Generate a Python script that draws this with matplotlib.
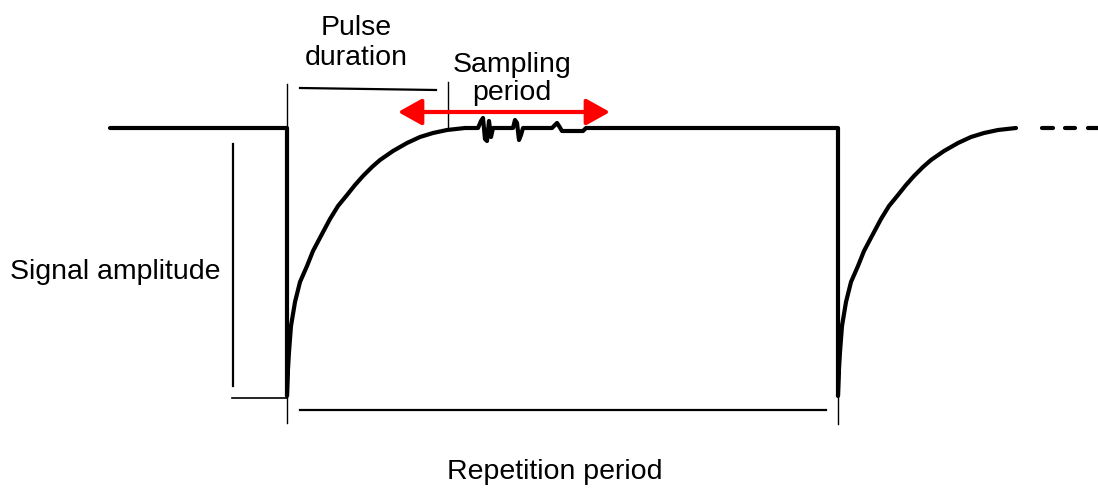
import matplotlib.pyplot as plt

plt.rcParams['font.family'] = ['Liberation Sans', 'DejaVu Sans']

# recovery curve after each pulse: offset from pulse start (px), level (px, down is +)
rec_dx = [0, 1, 2, 4, 8, 13, 20, 26, 35, 43, 51, 60, 68, 76, 85, 93,
          106, 120, 133, 146, 160, 178]
rec_y = [397, 370, 353, 327, 303, 283, 267, 252, 235, 220, 207, 196, 186, 177, 168, 161,
         152, 144, 138, 134, 131, 129]
pulse_x = [287, 838]
top = 129
start_x = 110

# little glitches on the plateau (sampling noise)
noise_x = [478, 481, 483, 485, 487, 489, 491, 493, 513, 515, 517, 519, 521, 523,
           552, 555, 557, 559, 562, 583, 586]
noise_y = [129, 122, 119, 140, 142, 122, 138, 129, 129, 121, 124, 141, 136, 129,
           129, 126, 124, 127, 132, 132, 129]

dash_x0 = [1042, 1065, 1088]
dash_x1 = [1053, 1075, 1098]

fig = plt.figure(figsize=(10.98, 4.89), dpi=100)
ax = fig.add_axes([0, 0, 1, 1])
ax.set_xlim(0, 1098)
ax.set_ylim(489, 0)
ax.axis('off')

# signal trace
xs = [start_x, pulse_x[0]]
ys = [top, top]
xs += [pulse_x[0] + d for d in rec_dx]
ys += rec_y
xs += noise_x
ys += noise_y
xs += [pulse_x[1]]
ys += [top]
xs += [pulse_x[1] + d for d in rec_dx]
ys += rec_y
ax.plot(xs, ys, color='black', lw=3, solid_capstyle='round', solid_joinstyle='round')

for a, b in zip(dash_x0, dash_x1):
    ax.plot([a, b], [top, top], color='black', lw=3, solid_capstyle='round')

# guide lines
thin = dict(color='black', lw=1.0)
ax.plot([287, 287], [85, 129], **thin)
ax.plot([448, 448], [83, 129], **thin)
ax.plot([287, 287], [397, 424], **thin)
ax.plot([838, 838], [397, 425], **thin)
ax.plot([300, 436], [89, 91], color='black', lw=1.6)
ax.plot([233, 233], [145, 387], color='black', lw=1.6)
ax.plot([232, 287], [399, 399], color='black', lw=1.2)
ax.plot([300, 826], [411, 411], color='black', lw=1.6)

# sampling window arrow
ax.annotate('', xy=(610, 113), xytext=(398, 113),
            arrowprops=dict(arrowstyle='<|-|>,head_length=0.72,head_width=0.4',
                            mutation_scale=20, color='#ff0000', lw=3,
                            shrinkA=0, shrinkB=0))

fs = 20.5
ax.text(356, 43, 'Pulse\nduration', ha='center', va='center', fontsize=fs, linespacing=1.2)
ax.text(512, 79, 'Sampling\nperiod', ha='center', va='center', fontsize=fs, linespacing=1.12)
ax.text(10, 272, 'Signal amplitude', ha='left', va='center', fontsize=fs)
ax.text(555, 472, 'Repetition period', ha='center', va='center', fontsize=fs)

fig.savefig('out.png', dpi=100)
